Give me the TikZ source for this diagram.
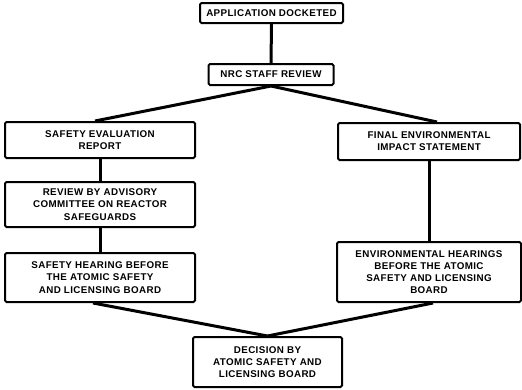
\documentclass[tikz,border=0pt]{standalone}
\usepackage{fontspec}
\newfontfamily\boxfont[LetterSpace=4]{Liberation Sans}
\begin{document}
\begin{tikzpicture}[x=1pt,y=1pt,
  box/.style={draw=black, line width=2pt, rounded corners=1.5pt, fill=white,
    align=center, inner sep=2pt, font=\boxfont\bfseries\fontsize{9.8}{12.2}\selectfont},
  link/.style={draw=black, line width=3pt}]
\useasboundingbox (0,0) rectangle (522,-389);
\node[box, minimum width=143pt, minimum height=20pt] (app) at (271.5,-13) {APPLICATION DOCKETED};
\node[box, minimum width=125pt, minimum height=21pt] (nrc) at (271,-74.5) {NRC STAFF REVIEW};
\node[box, minimum width=190pt, minimum height=36pt] (ser) at (100,-140) {SAFETY EVALUATION\\REPORT};
\node[box, minimum width=190pt, minimum height=45pt] (acrs) at (100,-204.5) {REVIEW BY ADVISORY\\COMMITTEE ON REACTOR\\SAFEGUARDS};
\node[box, minimum width=190pt, minimum height=49pt] (shear) at (100,-277.5) {SAFETY HEARING BEFORE\\THE ATOMIC SAFETY\\AND LICENSING BOARD};
\node[box, minimum width=182pt, minimum height=37pt] (feis) at (429,-141.5) {FINAL ENVIRONMENTAL\\IMPACT STATEMENT};
\node[box, minimum width=184pt, minimum height=60pt] (ehear) at (429,-272) {ENVIRONMENTAL HEARINGS\\BEFORE THE ATOMIC\\SAFETY AND LICENSING\\BOARD};
\node[box, minimum width=149pt, minimum height=50pt] (dec) at (267.5,-362) {DECISION BY\\ATOMIC SAFETY AND\\LICENSING BOARD};
\draw[link] (app.south) -- (nrc.north);
\draw[link] (nrc.south) -- ([xshift=-5pt]ser.north);
\draw[link] (nrc.south) -- ([xshift=8pt]feis.north);
\draw[link] (ser.south) -- (acrs.north);
\draw[link] (acrs.south) -- (shear.north);
\draw[link] (feis.south) -- (ehear.north);
\draw[link] ([xshift=-7pt]shear.south) -- (dec.north);
\draw[link] ([xshift=4pt]ehear.south) -- (dec.north);
\end{tikzpicture}
\end{document}
